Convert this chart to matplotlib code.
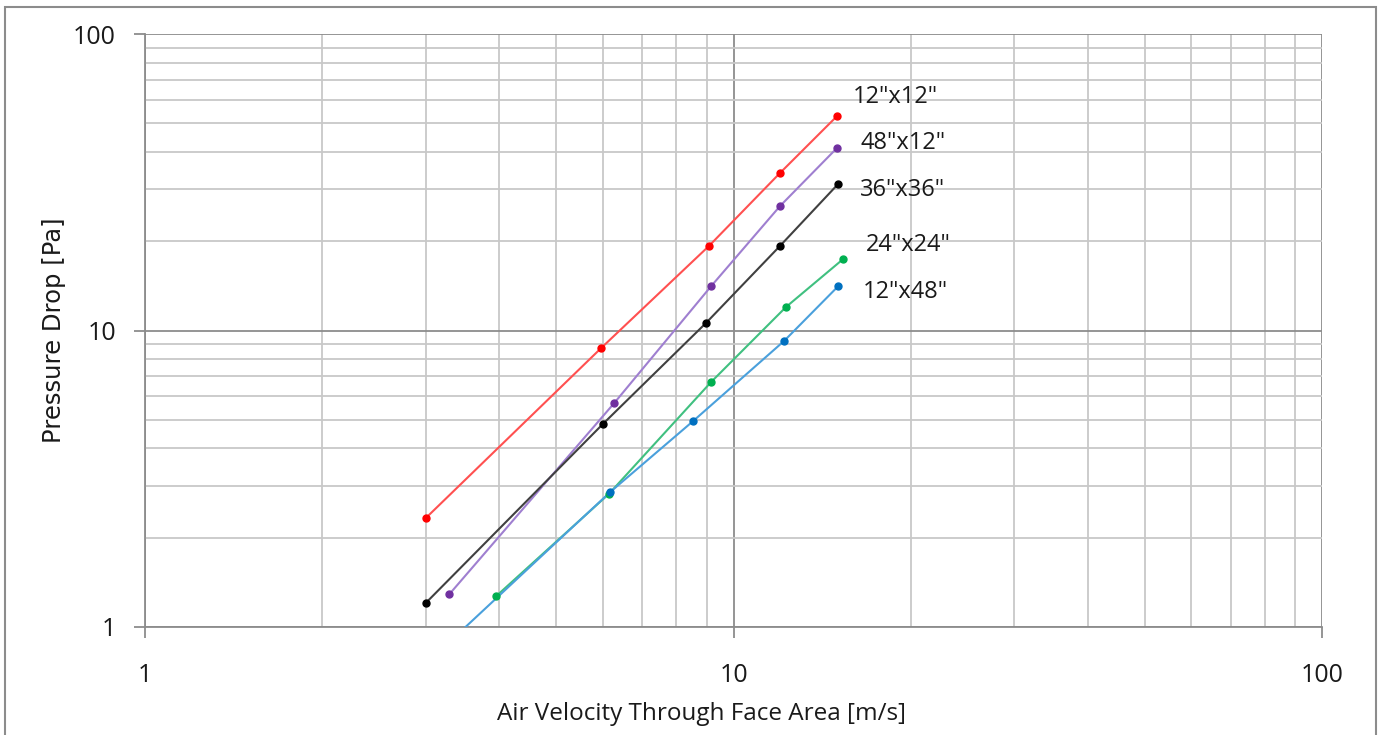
import matplotlib
matplotlib.use("Agg")
import matplotlib.pyplot as plt
from matplotlib.patches import Rectangle
from matplotlib.ticker import FixedLocator, FixedFormatter, NullFormatter

plt.rcParams['font.family'] = ['Open Sans', 'DejaVu Sans']

# Data
labels = ['12"x12"', '48"x12"', '36"x36"', '24"x24"', '12"x48"']
x_12x12 = [3.0, 5.96, 9.09, 12.0, 15.0]
y_12x12 = [2.33, 8.73, 19.3, 34.0, 52.9]
x_48x12 = [3.29, 6.27, 9.16, 12.0, 15.0]
y_48x12 = [1.29, 5.69, 14.1, 26.3, 41.3]
x_36x36 = [3.0, 6.0, 8.98, 12.0, 15.06]
y_36x36 = [1.205, 4.84, 10.6, 19.3, 31.2]
x_24x24 = [3.95, 6.14, 9.16, 12.28, 15.35]
y_24x24 = [1.27, 2.81, 6.70, 12.0, 17.4]
x_12x48 = [3.0, 6.17, 8.54, 12.19, 15.06]
y_12x48 = [0.75, 2.85, 4.95, 9.22, 14.1]
tick_vals = [1, 10, 100]
tick_labels = ['1', '10', '100']

series = [
    (x_12x12, y_12x12, '#FF5050', '#FF0000', (16, 19)),
    (x_48x12, y_48x12, '#9F7FD0', '#7030A0', (23, 5)),
    (x_36x36, y_36x36, '#404040', '#000000', (22, -6)),
    (x_24x24, y_24x24, '#40C080', '#00B050', (23, 14)),
    (x_12x48, y_12x48, '#4AA0DC', '#0070C0', (25, -6)),
]

fig = plt.figure(figsize=(13.81, 7.35), dpi=100)
ax = fig.add_axes([145/1381, 1-627/735, (1322-145)/1381, (627-34)/735])
ax.set_xscale('log')
ax.set_yscale('log')
ax.set_xlim(1, 100)
ax.set_ylim(1, 100)

ax.grid(True, which='major', color='#8C8C8C', linewidth=1.3)
ax.grid(True, which='minor', color='#C8C8C8', linewidth=1.3)
ax.set_axisbelow(True)

for (xs, ys, lc, mc, off), lab in zip(series, labels):
    ax.plot(xs, ys, color=lc, linewidth=1.5, zorder=3)
    ax.plot(xs, ys, linestyle='none', marker='o', markersize=5,
            color=mc, zorder=4)
    ax.annotate(lab, xy=(xs[-1], ys[-1]), xytext=off, textcoords='offset pixels',
                ha='left', va='center', fontsize=17, color='#1a1a1a')

for s in ax.spines.values():
    s.set_color('#8C8C8C')
    s.set_linewidth(1.3)
ax.spines['top'].set_visible(False)
ax.spines['right'].set_visible(False)

ax.xaxis.set_major_locator(FixedLocator(tick_vals))
ax.xaxis.set_major_formatter(FixedFormatter(tick_labels))
ax.yaxis.set_major_locator(FixedLocator(tick_vals))
ax.yaxis.set_major_formatter(FixedFormatter(tick_labels))
ax.xaxis.set_minor_formatter(NullFormatter())
ax.yaxis.set_minor_formatter(NullFormatter())
ax.tick_params(which='major', length=8, color='#8C8C8C', width=1.3,
               labelsize=18, labelcolor='#1a1a1a')
ax.tick_params(axis='x', which='major', pad=18)
ax.tick_params(axis='y', which='major', pad=13)
ax.tick_params(which='minor', length=0)

ax.set_xlabel('Air Velocity Through Face Area [m/s]', fontsize=17.5,
              color='#1a1a1a')
ax.xaxis.set_label_coords(0.4724, -0.126)
ax.set_ylabel('Pressure Drop [Pa]', fontsize=17.5, color='#1a1a1a',
              family=['DejaVu Sans'], labelpad=5)

fig.patches.append(Rectangle((5/1381, -0.01), 1371/1381, 1 - 7/735 + 0.01,
                             transform=fig.transFigure, fill=False,
                             edgecolor='#8C8C8C', linewidth=1.5))

fig.savefig('out.png', dpi=100)
